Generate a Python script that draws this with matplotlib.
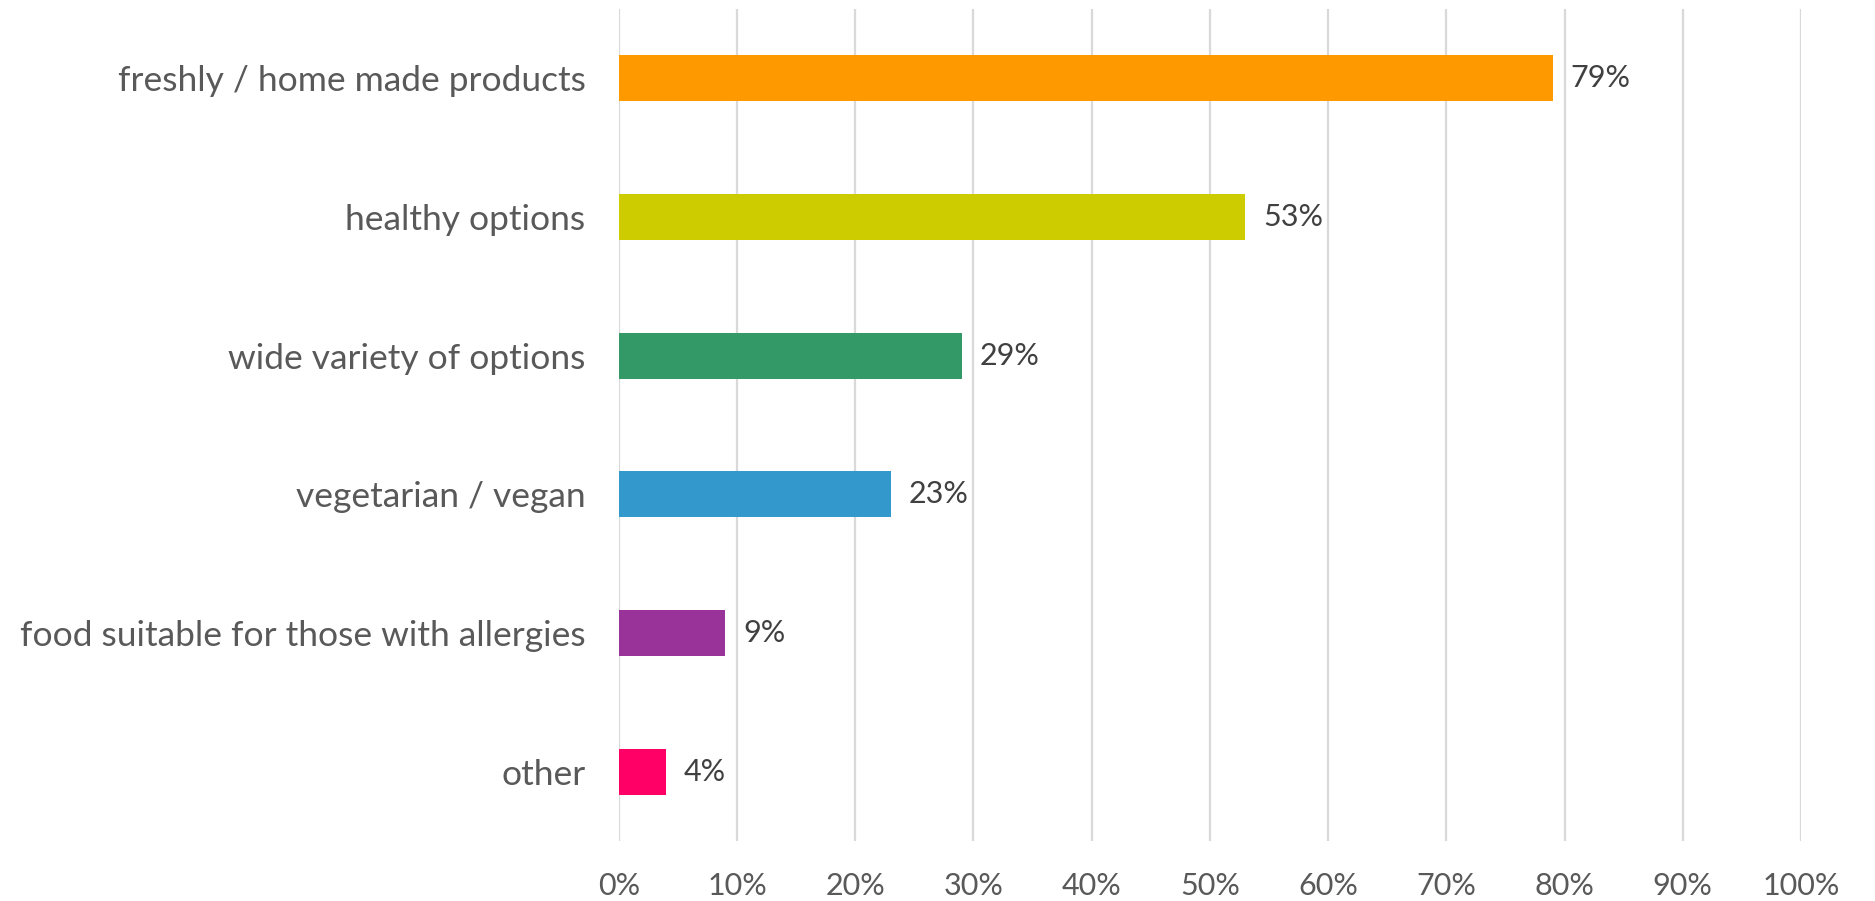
import matplotlib
matplotlib.use("Agg")
import matplotlib.pyplot as plt

categories = ["freshly / home made products", "healthy options", "wide variety of options",
              "vegetarian / vegan", "food suitable for those with allergies", "other"]
values = [79, 53, 29, 23, 9, 4]
colors = ["#FF9900", "#CCCC00", "#339966", "#3399CC", "#993399", "#FF0066"]
ticks = list(range(0, 101, 10))

plt.rcParams["font.family"] = ["Lato", "DejaVu Sans"]

fig = plt.figure(figsize=(18.75, 9.01), dpi=100)
ax = fig.add_axes([0.330, 0.0666, 0.6305, 0.9234])

y = list(range(len(categories)))
ax.barh(y, values, height=0.33, color=colors, zorder=3)
for yi, v in zip(y, values):
    ax.text(v + 1.5, yi, f"{v}%", va="center", ha="left", fontsize=22, color="#404040")

ax.set_ylim(len(categories) - 0.5, -0.5)
ax.set_xlim(0, 100)
ax.set_yticks(y)
ax.set_yticklabels(categories, fontsize=25.5, color="#595959")
ax.set_xticks(ticks)
ax.set_xticklabels([f"{t}%" for t in ticks], fontsize=22, color="#595959")
ax.tick_params(axis="both", length=0)
ax.tick_params(axis="y", pad=24)
ax.tick_params(axis="x", pad=22)
ax.grid(axis="x", color="#D9D9D9", linewidth=1.6, zorder=0)
for s in ax.spines.values():
    s.set_visible(False)

fig.savefig("out.png", dpi=100)
